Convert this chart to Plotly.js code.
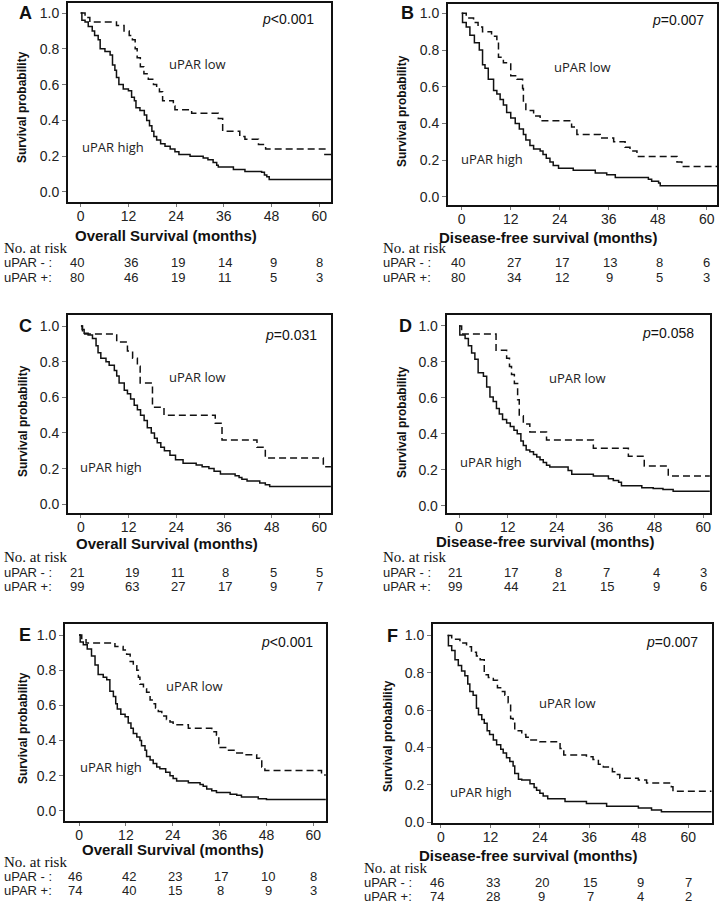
<!DOCTYPE html>
<html><head><meta charset="utf-8">
<script src="https://cdn.plot.ly/plotly-3.0.1.min.js"></script>
<style>html,body{margin:0;padding:0;background:#fff}#chart{width:719px;height:903px}</style>
</head><body><div id="chart"></div>
<script>
// ---------- DATA ----------
const months = [0, 12, 24, 36, 48, 60];
const yTicks = [0, 0.2, 0.4, 0.6, 0.8, 1.0];
const rowLabels = ['uPAR - :', 'uPAR +:'];
const curveLabels = ['uPAR low', 'uPAR high'];

// Panel A - Overall survival
const A_low_t = [0,1.1,2.3,9.0,10.9,12.2,13.0,13.7,14.2,15.0,15.9,17.0,18.3,19.1,19.8,20.6,23.3,23.7,27.9,34.6,35.7,40.0,41.3,44.7,46.5,61.4,63];
const A_low_s = [1.0,0.975,0.95,0.93,0.90,0.875,0.85,0.80,0.75,0.70,0.66,0.63,0.60,0.58,0.56,0.51,0.48,0.46,0.44,0.41,0.34,0.31,0.295,0.265,0.24,0.21,0.21];
const A_high_t = [0,0.3,1.1,1.9,2.9,3.5,4.4,4.9,6.1,7.4,8.0,8.6,9.0,9.6,10.7,12.0,12.8,13.5,13.9,14.9,16.0,16.6,17.3,17.9,18.4,19.1,20.1,21.2,22.5,23.7,24.7,27.5,30.8,32.0,33.3,34.2,34.6,38.4,41.3,45.5,46.2,46.8,47.4,63];
const A_high_s = [1.0,0.96,0.95,0.925,0.90,0.875,0.85,0.80,0.785,0.765,0.71,0.68,0.64,0.60,0.575,0.565,0.53,0.51,0.47,0.455,0.43,0.40,0.37,0.34,0.31,0.29,0.27,0.255,0.24,0.225,0.21,0.20,0.19,0.18,0.165,0.15,0.14,0.125,0.115,0.11,0.095,0.085,0.07,0.07];
const A_risk_neg = [40, 36, 19, 14, 9, 8];
const A_risk_pos = [80, 46, 19, 11, 5, 3];
const A_p = '<i>p</i>&lt;0.001';

// Panel B - Disease-free survival
const B_low_t = [0,1.1,2.9,4.0,5.1,7.3,8.6,9.0,10.2,12.0,13.5,14.9,15.1,15.7,17.6,19.2,26.9,28.2,33.9,37.2,40.0,41.2,42.9,52.7,53.9,62.5];
const B_low_s = [1.0,0.975,0.95,0.925,0.90,0.875,0.85,0.76,0.73,0.66,0.64,0.59,0.51,0.47,0.44,0.415,0.38,0.34,0.32,0.30,0.27,0.25,0.22,0.19,0.165,0.165];
const B_high_t = [0,0.2,1.1,2.0,3.1,4.3,5.1,5.7,6.5,7.8,8.6,9.4,10.2,11.0,12.0,13.1,14.1,15.1,15.7,16.7,17.6,19.2,19.9,20.7,21.6,22.4,23.7,27.3,32.7,35.5,37.6,45.7,46.5,48.2,48.6,62.5];
const B_high_s = [1.0,0.95,0.925,0.88,0.84,0.80,0.72,0.70,0.64,0.58,0.56,0.53,0.50,0.46,0.43,0.40,0.37,0.34,0.31,0.28,0.26,0.25,0.23,0.21,0.19,0.17,0.155,0.145,0.13,0.12,0.105,0.095,0.085,0.075,0.06,0.06];
const B_risk_neg = [40, 27, 17, 13, 8, 6];
const B_risk_pos = [80, 34, 12, 9, 5, 3];
const B_p = '<i>p</i>=0.007';

// Panel C - Overall survival
const C_low_t = [0,0.4,9.0,11.7,13.0,14.2,14.9,18.0,20.9,33.8,35.5,44.3,46.4,61.0,62.9];
const C_low_s = [1.0,0.955,0.91,0.86,0.82,0.775,0.68,0.545,0.50,0.455,0.36,0.32,0.26,0.21,0.21];
const C_high_t = [0,0.3,0.8,1.8,2.9,3.8,4.3,5.0,6.3,7.1,8.4,9.0,9.6,10.9,11.7,12.5,13.4,14.2,15.0,15.9,16.7,17.7,18.5,19.2,20.1,21.0,22.4,23.8,25.7,29.0,30.5,32.2,33.5,35.1,38.8,39.8,40.5,41.8,45.0,46.4,47.5,62.9];
const C_high_s = [1.0,0.98,0.96,0.95,0.93,0.89,0.85,0.82,0.80,0.78,0.75,0.72,0.68,0.64,0.62,0.59,0.555,0.53,0.50,0.47,0.43,0.40,0.37,0.345,0.32,0.30,0.275,0.25,0.23,0.22,0.21,0.20,0.185,0.17,0.16,0.15,0.14,0.13,0.12,0.11,0.10,0.10];
const C_risk_neg = [21, 19, 11, 8, 5, 5];
const C_risk_pos = [99, 63, 27, 17, 9, 7];
const C_p = '<i>p</i>=0.031';

// Panel D - Disease-free survival
const D_low_t = [0,0.65,9.1,11.7,12.4,12.9,13.6,14.4,14.8,15.8,17.4,21.5,33.0,41.6,45.5,51.4,61.6];
const D_low_s = [1.0,0.955,0.865,0.82,0.775,0.73,0.68,0.59,0.50,0.455,0.41,0.365,0.32,0.275,0.22,0.165,0.165];
const D_high_t = [0,0.2,1.5,2.3,3.1,3.9,4.7,6.0,6.8,7.6,8.4,9.2,9.9,10.7,11.7,12.6,13.5,14.3,15.2,15.8,16.5,17.4,18.3,19.1,19.9,20.7,21.5,22.3,26.8,27.7,33.0,36.7,37.9,39.2,39.9,44.9,47.7,50.1,52.6,61.6];
const D_high_s = [1.0,0.95,0.93,0.89,0.85,0.815,0.74,0.72,0.66,0.605,0.58,0.54,0.51,0.48,0.46,0.44,0.42,0.40,0.36,0.335,0.31,0.30,0.285,0.27,0.255,0.24,0.225,0.215,0.195,0.175,0.165,0.15,0.14,0.13,0.11,0.10,0.095,0.09,0.08,0.08];
const D_risk_neg = [21, 17, 8, 7, 4, 3];
const D_risk_pos = [99, 44, 21, 15, 9, 6];
const D_p = '<i>p</i>=0.058';

// Panel E - Overall survival
const E_low_t = [0,0.7,1.8,9.2,11.3,12.2,13.1,13.9,14.8,15.2,15.6,16.5,17.3,18.2,19.0,19.6,20.3,21.2,22.4,23.3,24.1,28.0,34.0,35.2,35.8,37.8,40.4,42.5,45.5,46.3,46.8,47.6,62.1,63.2];
const E_low_s = [1.0,0.98,0.955,0.935,0.915,0.89,0.85,0.825,0.80,0.76,0.72,0.695,0.675,0.63,0.61,0.585,0.565,0.54,0.52,0.505,0.49,0.47,0.45,0.43,0.36,0.345,0.33,0.32,0.30,0.29,0.25,0.23,0.205,0.205];
const E_high_t = [0,0.3,1.1,2.1,3.2,4.1,4.9,6.2,7.1,7.9,8.8,9.4,9.8,10.7,11.8,12.6,13.3,13.9,14.8,15.6,16.0,16.9,17.3,18.2,19.0,19.9,20.7,22.2,23.3,24.1,25.0,28.0,31.0,31.8,32.7,34.0,35.2,38.7,40.4,41.6,45.9,48.0,63.2];
const E_high_s = [1.0,0.96,0.945,0.92,0.88,0.83,0.775,0.76,0.745,0.68,0.65,0.61,0.58,0.55,0.535,0.50,0.47,0.44,0.42,0.40,0.37,0.345,0.31,0.29,0.27,0.25,0.24,0.22,0.20,0.185,0.17,0.16,0.15,0.14,0.125,0.115,0.105,0.095,0.09,0.08,0.07,0.065,0.065];
const E_risk_neg = [46, 42, 23, 17, 10, 8];
const E_risk_pos = [74, 40, 15, 8, 9, 3];
const E_p = '<i>p</i>&lt;0.001';

// Panel F - Disease-free survival
const F_low_t = [1.6,2.6,4.6,6.2,7.4,8.6,9.5,10.5,11.5,12.7,13.7,14.7,15.5,16.3,16.9,17.5,17.9,19.6,20.6,21.6,24.0,28.9,29.8,35.3,36.9,38.2,39.4,41.6,42.4,43.4,47.9,49.9,55.9,56.3,65.7];
const F_low_s = [1.0,0.98,0.96,0.94,0.91,0.89,0.87,0.79,0.775,0.76,0.72,0.70,0.68,0.64,0.555,0.53,0.49,0.47,0.455,0.44,0.43,0.395,0.36,0.35,0.335,0.31,0.295,0.27,0.255,0.235,0.225,0.21,0.19,0.165,0.165];
const F_high_t = [1.6,1.8,2.6,3.4,4.2,5.0,5.8,6.5,7.0,7.8,8.6,9.1,9.9,10.5,11.2,11.8,12.7,13.5,14.5,15.1,15.9,16.7,17.5,17.9,18.8,19.6,21.6,22.6,23.2,24.0,24.8,25.9,30.1,35.3,40.2,47.9,51.1,53.5,65.7];
const F_high_s = [1.0,0.945,0.92,0.87,0.84,0.81,0.785,0.74,0.70,0.68,0.61,0.575,0.55,0.53,0.49,0.47,0.44,0.415,0.39,0.37,0.345,0.325,0.30,0.26,0.23,0.225,0.205,0.185,0.17,0.155,0.14,0.125,0.11,0.10,0.085,0.075,0.065,0.055,0.055];
const F_risk_neg = [46, 33, 20, 15, 9, 7];
const F_risk_pos = [74, 28, 9, 7, 4, 2];
const F_p = '<i>p</i>=0.007';

const OS_title = 'Overall Survival (months)';
const DFS_title = 'Disease-free survival (months)';
const yTitle = 'Survival probability';

// ---------- LAYOUT CONFIG (pixel positions) ----------
const W = 719, H = 903;
const fx = x => x / W, fy = y => 1 - y / H;

const panels = [
  {id:'A', low:[A_low_t,A_low_s], high:[A_high_t,A_high_s], risk:[A_risk_neg,A_risk_pos], p:A_p, xt:OS_title,
   box:[68,331,3,202], xr:[-3.19,62.94], yr:[-0.056,1.056],
   letter:[25,13], pv:[288,19], lowL:[197,64], highL:[113,147], xtp:[166,235], ytp:[22,107], nar:[3,248], rows:[263,277]},
  {id:'B', low:[B_low_t,B_low_s], high:[B_high_t,B_high_s], risk:[B_risk_neg,B_risk_pos], p:B_p, xt:DFS_title,
   box:[448,717,4,205], xr:[-3.36,62.5], yr:[-0.045,1.051],
   letter:[407,13], pv:[678,20], lowL:[582,67], highL:[492,159], xtp:[548,237], ytp:[402,111], nar:[382,248], rows:[263,277]},
  {id:'C', low:[C_low_t,C_low_s], high:[C_high_t,C_high_s], risk:[C_risk_neg,C_risk_pos], p:C_p, xt:OS_title,
   box:[68,331,315,513], xr:[-3.26,62.93], yr:[-0.049,1.062],
   letter:[25,326], pv:[291,335], lowL:[197,377], highL:[111,467], xtp:[167,543], ytp:[23,421], nar:[3,557], rows:[572,586]},
  {id:'D', low:[D_low_t,D_low_s], high:[D_high_t,D_high_s], risk:[D_risk_neg,D_risk_pos], p:D_p, xt:DFS_title,
   box:[446.7,710,315,513], xr:[-3.02,61.65], yr:[-0.041,1.061],
   letter:[405,326], pv:[668,333], lowL:[577,378], highL:[491,462], xtp:[545,541], ytp:[402,422], nar:[382,557], rows:[572,586]},
  {id:'E', low:[E_low_t,E_low_s], high:[E_high_t,E_high_s], risk:[E_risk_neg,E_risk_pos], p:E_p, xt:OS_title,
   box:[65,326,624,821], xr:[-3.59,63.25], yr:[-0.057,1.0625],
   letter:[25,635], pv:[287,642], lowL:[195,686], highL:[111,767], xtp:[173,849], ytp:[23,728], nar:[3,862], rows:[876,890]},
  {id:'F', low:[F_low_t,F_low_s], high:[F_high_t,F_high_s], risk:[F_risk_neg,F_risk_pos], p:F_p, xt:DFS_title,
   box:[433,711.7,624,823], xr:[-1.94,65.7], yr:[-0.005,1.062],
   letter:[392,636], pv:[672,642], lowL:[567,703], highL:[481,792], xtp:[528,855], ytp:[388,736], nar:[363,868], rows:[882,896]}
];
const riskShift = [-4, 3, 2, 1, 2, 0];

const SANS = 'Arial';
const SERIF = 'Times New Roman';
const LBL = 'Open Sans';
const traces = [];
const annotations = [];
const layout = {
  width: W, height: H, margin:{l:0,r:0,t:0,b:0},
  paper_bgcolor:'#ffffff', plot_bgcolor:'#ffffff', showlegend:false,
  font:{family:SANS, size:14, color:'#111'}
};

panels.forEach((P, i) => {
  const n = i === 0 ? '' : String(i + 1);
  const xa = 'x' + n, ya = 'y' + n;
  traces.push({x:P.low[0], y:P.low[1], xaxis:xa, yaxis:ya, type:'scatter', mode:'lines',
    line:{shape:'hv', color:'#111', width:1.5, dash:'7px,4px'}, hoverinfo:'skip', name:curveLabels[0]});
  traces.push({x:P.high[0], y:P.high[1], xaxis:xa, yaxis:ya, type:'scatter', mode:'lines',
    line:{shape:'hv', color:'#111', width:1.5}, hoverinfo:'skip', name:curveLabels[1]});
  layout['xaxis' + n] = {
    domain:[fx(P.box[0]), fx(P.box[1])], anchor:ya, range:P.xr, tickvals:months,
    showgrid:false, zeroline:false, showline:true, mirror:true, linewidth:2, linecolor:'#111',
    ticks:'outside', ticklen:3, tickwidth:1, tickcolor:'#777', ticklabelstandoff:-3,
    tickfont:{family:SANS, size:14, color:'#222'}
  };
  layout['yaxis' + n] = {
    domain:[fy(P.box[3]), fy(P.box[2])], anchor:xa, range:P.yr, tickvals:yTicks, tickformat:'.1f',
    showgrid:false, zeroline:false, showline:true, mirror:true, linewidth:2, linecolor:'#111',
    ticks:'outside', ticklen:4, tickwidth:1, tickcolor:'#777',
    tickfont:{family:SANS, size:14, color:'#222'}
  };
  const A = (x, y, text, font, extra) => annotations.push(Object.assign({
    xref:'paper', yref:'paper', x:fx(x), y:fy(y), text, showarrow:false, font,
    xanchor:'center', yanchor:'middle', borderpad:0}, extra || {}));
  A(P.letter[0], P.letter[1], '<b>' + P.id + '</b>', {family:SANS, size:18, color:'#111'});
  A(P.pv[0], P.pv[1], P.p, {family:SANS, size:14, color:'#111'});
  A(P.lowL[0], P.lowL[1], curveLabels[0], {family:LBL, size:13, color:'#222'});
  A(P.highL[0], P.highL[1], curveLabels[1], {family:LBL, size:13, color:'#222'});
  A(P.xtp[0], P.xtp[1], '<b>' + P.xt + '</b>', {family:SANS, size:15, color:'#111'});
  A(P.ytp[0], P.ytp[1], '<b>' + yTitle + '</b>', {family:SANS, size:12, color:'#111'}, {textangle:-90});
  A(P.nar[0], P.nar[1], 'No. at risk', {family:SERIF, size:15, color:'#111'}, {xanchor:'left'});
  P.rows.forEach((ry, r) => {
    A(P.nar[0], ry, rowLabels[r], {family:SANS, size:13, color:'#222'}, {xanchor:'left'});
    P.risk[r].forEach((v, k) => {
      annotations.push({xref:xa, yref:'paper', x:months[k], y:fy(ry), text:String(v), showarrow:false, borderpad:0,
        xanchor:'center', yanchor:'middle', xshift:riskShift[k], font:{family:SANS, size:13, color:'#222'}});
    });
  });
});
layout.annotations = annotations;
Plotly.newPlot('chart', traces, layout, {staticPlot:true, displayModeBar:false});
</script></body></html>
